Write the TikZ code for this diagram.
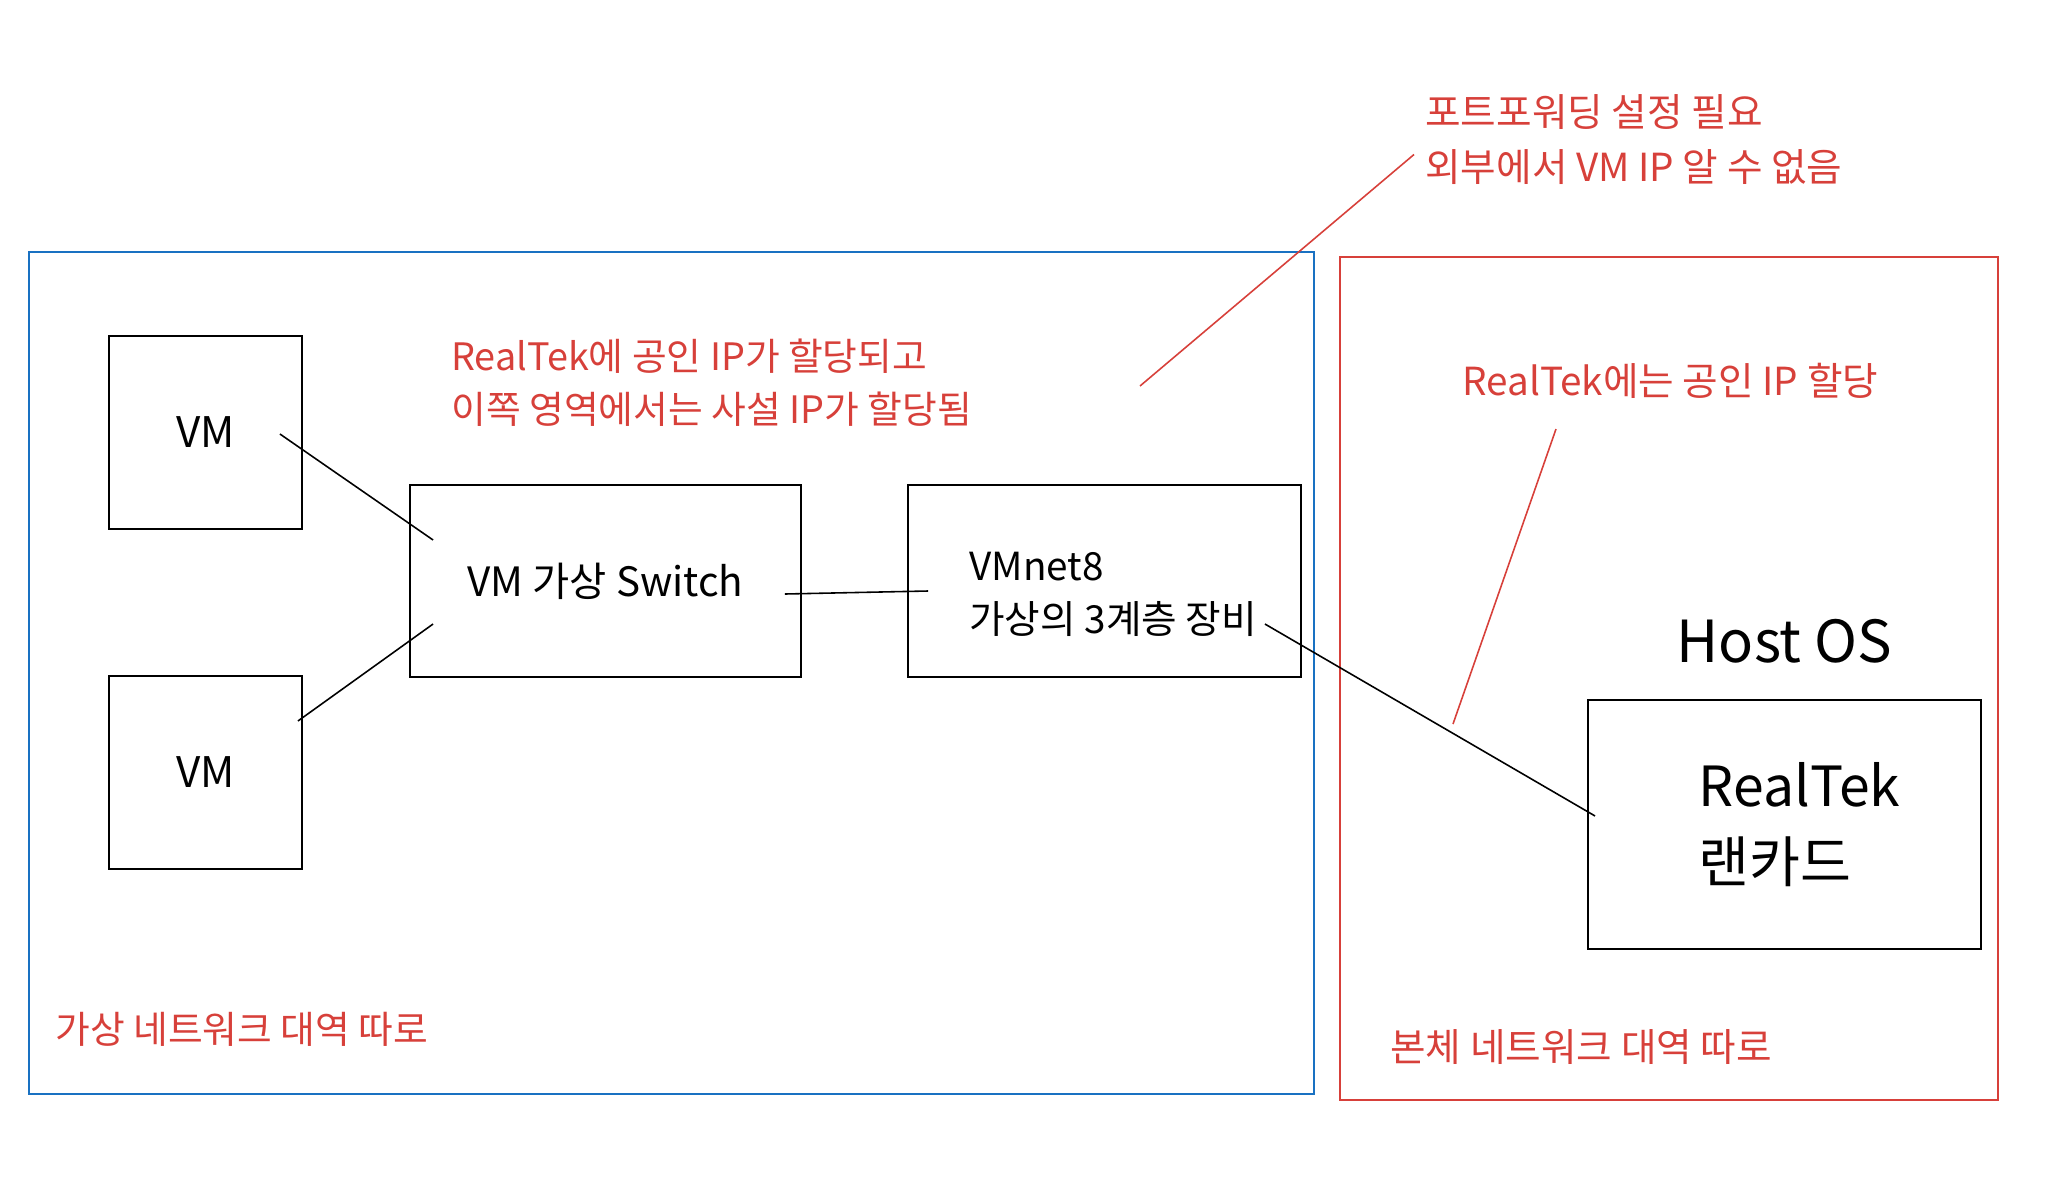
\documentclass[tikz,border=0pt]{standalone}
\usepackage{fontspec}
\setmainfont{Noto Sans CJK KR}
\usetikzlibrary{positioning,calc}
\definecolor{exred}{HTML}{D7403A}
\definecolor{exblue}{HTML}{1971C2}

\begin{document}
\begin{tikzpicture}[x=0.02cm,y=-0.02cm,
    box/.style={draw, line width=1.1pt, inner sep=0pt, align=left},
    region/.style={draw, line width=1.2pt, inner sep=0pt},
    note/.style={text=exred, inner sep=0pt, align=left, font=\fontsize{21.5}{30}\selectfont},
    widenote/.style={note, font=\fontsize{22}{31}\selectfont},
    link/.style={line width=0.9pt}]
   \useasboundingbox (0,0) rectangle (2060,1194);

   % network areas
   \node[region, exblue, minimum width=25.7cm, minimum height=16.84cm] (vmnet area) at (671.5,673) {};
   \node[region, exred, minimum width=13.16cm, minimum height=16.86cm] (host area) at (1669,678.5) {};

   % devices
   \node[box, minimum width=3.86cm, minimum height=3.86cm, font=\fontsize{24}{28}\selectfont] (vm1) at (205.5,432.5) {VM};
   \node[box, minimum width=3.86cm, minimum height=3.86cm, font=\fontsize{24}{28}\selectfont] (vm2) at (205.5,772.5) {VM};
   \node[box, minimum width=7.82cm, minimum height=3.84cm, font=\fontsize{23}{28}\selectfont] (switch) at (605.5,581) {VM 가상 Switch};
   \node[box, minimum width=7.86cm, minimum height=3.84cm, font=\fontsize{22}{30}\selectfont] (vmnet) at (1104.5,581) {\hspace*{0.35cm}\rule{0pt}{1.1cm}VMnet8\\\hspace*{0.35cm}가상의 3계층 장비};
   \node[box, minimum width=7.86cm, minimum height=4.98cm, font=\fontsize{31.5}{43}\selectfont] (nic) at (1784.5,824.5) {\hspace*{0.6cm}RealTek\\\hspace*{0.6cm}랜카드};
   \node[inner sep=0pt, font=\fontsize{33}{36}\selectfont] (hostos) [above=0.7cm of nic] {Host OS};

   % notes
   \node[note, anchor=west] (private note) at (451,383) {RealTek에 공인 IP가 할당되고\\이쪽 영역에서는 사설 IP가 할당됨};
   \node[widenote, anchor=west] (forward note) at (1425,139.5) {포트포워딩 설정 필요\\외부에서 VM IP 알 수 없음};
   \node[widenote, anchor=west] (public note) at (1462,381) {RealTek에는 공인 IP 할당};
   \node[note, anchor=west] (vm band) at (55,1029) {가상 네트워크 대역 따로};
   \node[widenote, anchor=west] (host band) at (1390,1047) {본체 네트워크 대역 따로};

   \coordinate (forward end) at (1140,386);
   \coordinate (public end) at (1453,724);

   % links
   \draw[link] ($(vm1.east)+(-23,1.5)$) -- ($(switch.west)+(24,-41)$);
   \draw[link] ($(vm2.east)+(-5,-51.5)$) -- ($(switch.west)+(24,43)$);
   \draw[link] ($(switch.east)+(-17,13)$) -- ($(vmnet.west)+(21,10)$);
   \draw[link] ($(vmnet.east)+(-37,43)$) -- ($(nic.west)+(8,-8.5)$);

   \draw[link, exred] (forward end) -- ($(forward note.west)+(-11,15)$);
   \draw[link, exred] (public end) -- ($(public note.south west)+(94,30)$);

\end{tikzpicture}
\end{document}
